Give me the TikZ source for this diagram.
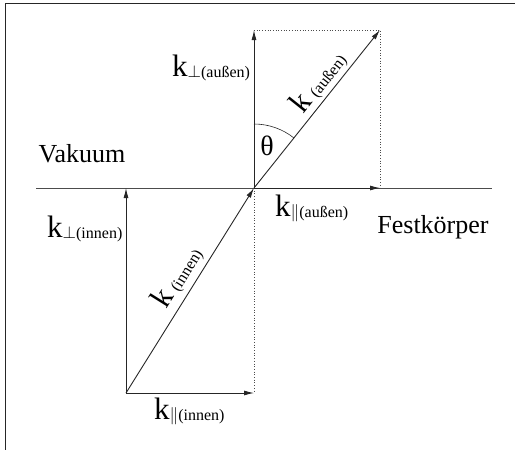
\documentclass[tikz,border=0pt]{standalone}
\usepackage{fontspec}
\setmainfont{Liberation Serif}
\usetikzlibrary{arrows.meta}
\newcommand{\kbig}{\fontsize{31}{31}\selectfont k}
\newcommand{\ksub}[1]{\raisebox{-1pt}{\fontsize{16}{16}\selectfont #1}}
\begin{document}
\begin{tikzpicture}[x=1pt,y=-1pt,
  vec/.style={line width=0.9pt, draw=black!85, -{Latex[length=10pt,width=5pt]}},
  aux/.style={line width=0.7pt, draw=black!70, dotted},
  lab/.style={inner sep=0pt, font=\fontsize{26}{26}\selectfont}]
\useasboundingbox (0,0) rectangle (515,450);
% frame
\draw[line width=1.1pt, black!85] (5.5,450) -- (5.5,3.5) -- (515,3.5);
% points
\coordinate (O) at (254,188);
\coordinate (T) at (254,30);
\coordinate (TR) at (380,30);
\coordinate (R) at (380,188);
\coordinate (BL) at (126,393);
\coordinate (B) at (254,393);
\coordinate (Ls) at (36,188);
\coordinate (Le) at (492,188);
\coordinate (Ib) at (126,188);
% surface
\draw[line width=0.9pt, black!70] (Ls) -- (Le);
% dotted
\draw[aux] (T) -- (TR) -- (R);
\draw[aux] (O) -- (B);
% vectors
\draw[vec] (O) -- (T);
\draw[vec] (O) -- (R);
\draw[vec] (O) -- node[pos=0.61, sloped, above=16pt, anchor=center, inner sep=0pt] (ka) {\kbig\,\ksub{(außen)}} (TR);
\draw[vec] (BL) -- (Ib);
\draw[vec] (BL) -- (B);
\draw[vec] (BL) -- node[pos=0.52, sloped, above=18pt, anchor=center, inner sep=0pt] (ki) {\kbig\,\ksub{(innen)}} (O);
% angle
\draw[line width=0.6pt, black!85] (254,124) arc[start angle=-90, end angle=-51.4, radius=64];
% labels
\node[lab, anchor=base, font=\fontsize{28}{28}\selectfont] (th) at (267,155) {θ};
\node[lab, anchor=base] (vak) at (82,162) {Vakuum};
\node[lab, anchor=base] (fest) at (433,233) {Festkörper};
\node[lab, anchor=base west] (kpa) at (172,76) {\kbig\ksub{$\perp$(außen)}};
\node[lab, anchor=base west] (kpi) at (47,237) {\kbig\ksub{$\perp$(innen)}};
\node[lab, anchor=base west] (kla) at (275,216) {\kbig\ksub{$\|$(außen)}};
\node[lab, anchor=base west] (kli) at (154,419) {\kbig\ksub{$\|$(innen)}};
\end{tikzpicture}
\end{document}
